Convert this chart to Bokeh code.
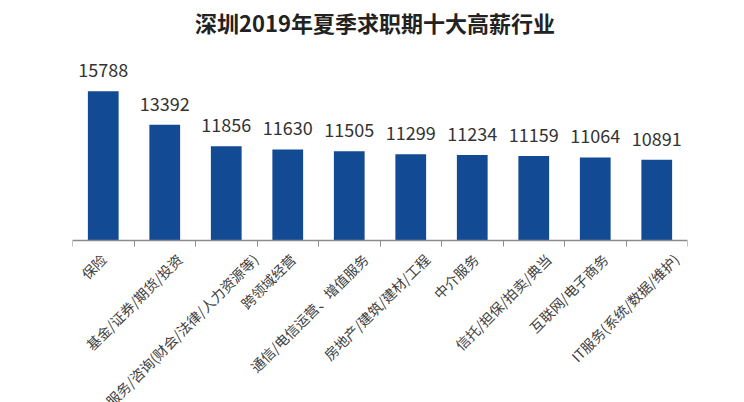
import math
from bokeh.plotting import figure
from bokeh.models import ColumnDataSource, LabelSet, Label, FixedTicker, Range1d
from bokeh.core.properties import value
from bokeh.embed import file_html
from bokeh.resources import INLINE

categories = ["保险", "基金/证券/期货/投资", "专业服务/咨询(财会/法律/人力资源等)", "跨领域经营",
              "通信/电信运营、增值服务", "房地产/建筑/建材/工程", "中介服务",
              "信托/担保/拍卖/典当", "互联网/电子商务", "IT服务(系统/数据/维护)"]
salaries = [15788, 13392, 11856, 11630, 11505, 11299, 11234, 11159, 11064, 10891]
title_text = "深圳2019年夏季求职期十大高薪行业"

n = len(categories)
centers = [i + 0.5 for i in range(n)]
y0 = 5139                      # baseline value of the bars
px_per_unit = 0.01402          # vertical scale (pixels per salary unit)
frame_h = 402
base_px = 240                  # baseline pixel position from the top
y_top = y0 + base_px / px_per_unit
y_bot = y0 - (frame_h - base_px) / px_per_unit

# rotated labels slide right a little as they get longer (as in the source chart)
label_dx = [1.6 * len(c) - 3 for c in categories]

src = ColumnDataSource(dict(
    x=centers, top=salaries, label=[str(v) for v in salaries],
    cat=categories, ybase=[y0] * n, dx=label_dx,
))

p = figure(width=744, height=402, output_backend="svg", toolbar_location=None,
           x_range=Range1d(0, n), y_range=Range1d(y_bot, y_top),
           min_border_left=72, min_border_right=57, min_border_top=0, min_border_bottom=0)

p.vbar(x="x", top="top", bottom=y0, width=0.5, source=src,
       fill_color="#124A93", line_color=None)

p.add_layout(LabelSet(x="x", y="top", text="label", source=src,
                      text_align="center", text_baseline="alphabetic", y_offset=14,
                      text_font=value("Noto Sans CJK SC"), text_font_size=value("18px"),
                      text_color="#333333"))

p.add_layout(LabelSet(x="x", y="ybase", text="cat", source=src,
                      angle=math.pi / 4, text_align="right", text_baseline="middle",
                      x_offset="dx", y_offset=-16,
                      text_font=value("Noto Sans CJK SC"), text_font_size=value("14px"),
                      text_color="#404040"))

p.add_layout(Label(x=n / 2, y=y_top, text=title_text, x_offset=-5, y_offset=-21,
                   text_align="center", text_baseline="middle",
                   text_font="Noto Sans CJK SC", text_font_size="22px",
                   text_font_style="bold", text_color="#222222"))

xa = p.xaxis[0]
xa.fixed_location = y0
xa.ticker = FixedTicker(ticks=centers, minor_ticks=list(range(n + 1)))
xa.major_tick_line_color = None
xa.major_tick_out = 0
xa.major_label_text_color = None
xa.major_label_text_font_size = "0px"
xa.major_label_standoff = 0
xa.minor_tick_line_color = "#8c8c8c"
xa.minor_tick_out = 6
xa.minor_tick_in = 0
xa.axis_line_color = "#8c8c8c"
xa.axis_line_width = 1.5
p.yaxis.visible = False
p.xgrid.visible = False
p.ygrid.visible = False
p.outline_line_color = None
p.background_fill_color = "white"
p.border_fill_color = "white"

open("out.html", "w").write(file_html(p, INLINE))
